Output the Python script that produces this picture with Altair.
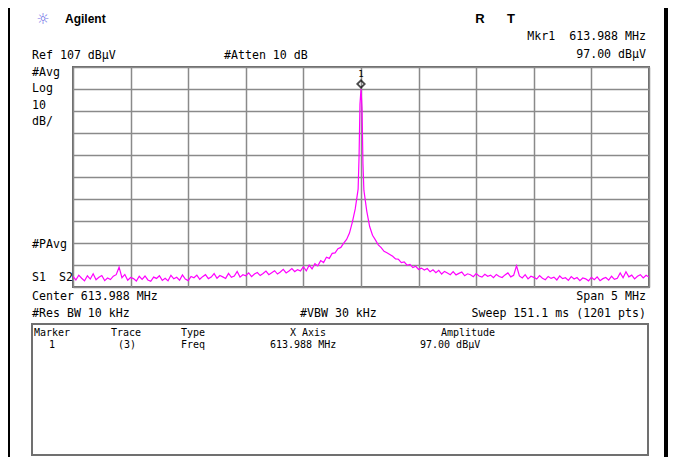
import altair as alt
import pandas as pd

CENTER_MHZ = 613.988
SPAN_MHZ = 5.0
REF_DB = 107.0
DB_PER_DIV = 10.0

# sweep offsets from centre (kHz), 25 kHz grid
grid_offsets_khz = list(range(-2500, 2501, 25))
grid_amp_dbuv = [
    11.8, 10.2, 12.4, 11.0, 9.8, 12.1, 10.6, 13.0, 10.3, 11.4,
    12.2, 9.9, 11.1, 10.4, 11.9, 12.6, 16.0, 11.2, 12.7, 10.1,
    11.3, 10.8, 9.7, 11.9, 10.5, 12.0, 10.2, 9.6, 11.5, 10.9,
    12.1, 10.0, 11.0, 9.8, 12.3, 10.7, 11.4, 10.1, 12.5, 10.6,
    9.9, 11.8, 11.2, 12.4, 10.5, 11.7, 12.6, 10.8, 11.5, 13.1,
    11.0, 12.2, 11.6, 10.9, 13.2, 11.4, 12.0, 14.1, 11.5, 12.6,
    12.1, 13.4, 11.7, 12.9, 13.6, 12.2, 13.1, 14.2, 12.6, 13.5,
    14.4, 12.9, 13.8, 15.0, 13.4, 14.3, 15.4, 14.0, 14.9, 14.3,
    16.2, 14.3, 16.9, 15.2, 17.6, 16.6, 19.0, 18.1, 20.5, 20.0,
    22.3, 22.5, 24.4, 25.0, 26.9, 28.6, 31.5, 36.5, 42.5, 51.5,
    97.0,
    51.0, 41.5, 34.5, 30.5, 28.4, 26.1, 24.9, 23.2, 22.6, 21.8,
    21.0, 19.8, 19.6, 18.1, 18.4, 16.9, 17.3, 15.8, 16.4, 15.0,
    15.6, 14.7, 15.4, 13.9, 14.8, 13.5, 14.6, 12.9, 14.1, 13.4,
    12.6, 14.0, 12.5, 13.2, 13.8, 12.1, 13.0, 12.6, 11.7, 13.1,
    12.0, 11.5, 12.8, 11.9, 12.4, 11.2, 12.7, 11.8, 11.3, 12.5,
    13.4, 11.6, 12.3, 16.6, 12.0, 11.1, 12.6, 10.7, 11.9, 11.4,
    10.6, 12.2, 11.0, 10.3, 11.8, 10.9, 11.5, 10.2, 12.0, 10.8,
    11.2, 10.0, 11.7, 10.6, 11.3, 9.9, 11.1, 10.7, 9.8, 11.4,
    10.3, 11.6, 9.9, 10.8, 11.3, 10.1, 11.9, 10.5, 11.0, 13.4,
    11.2, 13.9, 11.6, 12.4, 10.7, 11.9, 12.6, 11.1, 12.3, 11.5,
]
# extra samples on the carrier skirt
peak_offsets_khz = [-17, -9, 9, 17]
peak_amp_dbuv = [66.0, 90.0, 88.0, 63.0]

marker_freq_mhz = [613.988]
marker_amp_dbuv = [97.0]

if len(grid_amp_dbuv) != len(grid_offsets_khz):
    raise SystemExit(f"length mismatch {len(grid_amp_dbuv)} vs {len(grid_offsets_khz)}")

offs = grid_offsets_khz + peak_offsets_khz
amps = grid_amp_dbuv + peak_amp_dbuv
trace_df = pd.DataFrame({"off": offs, "amp": amps}).sort_values("off")
trace_df["freq"] = CENTER_MHZ + trace_df["off"] / 1000.0

f0 = CENTER_MHZ - SPAN_MHZ / 2
f1 = CENTER_MHZ + SPAN_MHZ / 2
x_grid = [round(f0 + k * SPAN_MHZ / 10, 4) for k in range(11)]
bottom_db = REF_DB - 10 * DB_PER_DIV
y_grid = [bottom_db + k * DB_PER_DIV for k in range(11)]

MONO = "DejaVu Sans Mono"
SANS = "Liberation Sans, Arial, sans-serif"
NB = "\u00a0"
OX, OY = 73, 67  # page position of plot origin

xs = alt.Scale(domain=[f0, f1], nice=False, zero=False)
ys = alt.Scale(domain=[bottom_db, REF_DB], nice=False, zero=False)
xaxis = alt.Axis(values=x_grid, tickCount=30, grid=True, labels=False, ticks=False,
                 domain=False, title=None)
yaxis = alt.Axis(values=y_grid, tickCount=30, grid=True, labels=False, ticks=False,
                 domain=False, title=None)

trace = alt.Chart(trace_df).mark_line(color="#ff00ff", strokeWidth=1.2, clip=True).encode(
    x=alt.X("freq:Q", scale=xs, axis=xaxis),
    y=alt.Y("amp:Q", scale=ys, axis=yaxis),
    order="off:Q",
)

mk_df = pd.DataFrame({"freq": marker_freq_mhz, "amp": marker_amp_dbuv})
marker = alt.Chart(mk_df).mark_point(shape="diamond", filled=False, color="black",
                                      strokeWidth=1.8, size=55, yOffset=-5).encode(
    x=alt.X("freq:Q", scale=xs), y=alt.Y("amp:Q", scale=ys))
marker_lbl = alt.Chart(mk_df).mark_text(text="1", fontSize=9, font=MONO, yOffset=-15,
                                         color="black").encode(
    x=alt.X("freq:Q", scale=xs), y=alt.Y("amp:Q", scale=ys))

one = pd.DataFrame({"a": [0]})


def label(text, x, y, align="left", size=11.6, font=MONO, weight="normal", color="black"):
    return alt.Chart(one).mark_text(text=text, align=align, baseline="middle", fontSize=size,
                                    font=font, fontWeight=weight, color=color).encode(
        x=alt.value(x - OX), y=alt.value(y - OY))


def box(x1, y1, x2, y2, fill=None, stroke=None, sw=0):
    kw = {}
    if fill:
        kw["fill"] = fill
    else:
        kw["fillOpacity"] = 0
    if stroke:
        kw["stroke"] = stroke
        kw["strokeWidth"] = sw
    return alt.Chart(one).mark_rect(**kw).encode(
        x=alt.value(x1 - OX), x2=alt.value(x2 - OX), y=alt.value(y1 - OY), y2=alt.value(y2 - OY))


labels = [
    label("☼", 43, 19, align="center", size=15, font="DejaVu Sans", color="#6a6ae6"),
    label("Agilent", 65, 19, size=12, font=SANS, weight="bold"),
    label("R", 480, 19, align="center", size=13, font=SANS, weight="bold"),
    label("T", 511, 19, align="center", size=13, font=SANS, weight="bold"),
    label(f"Mkr1{NB}{NB}613.988 MHz", 646, 37, align="right"),
    label("97.00 dBµV", 646, 55, align="right"),
    label("Ref 107 dBµV", 32, 56),
    label("#Atten 10 dB", 224, 56),
    label("#Avg", 32, 73),
    label("Log", 32, 89),
    label("10", 32, 106),
    label("dB/", 32, 122),
    label("#PAvg", 32, 245),
    label("S1", 32, 278),
    label("S2", 59, 278),
    label("Center 613.988 MHz", 32, 297),
    label("Span 5 MHz", 646, 297, align="right"),
    label("#Res BW 10 kHz", 32, 314),
    label("#VBW 30 kHz", 300, 314),
    label("Sweep 151.1 ms (1201 pts)", 646, 314, align="right"),
    label("Marker", 52, 333, align="center", size=10),
    label("Trace", 126, 333, align="center", size=10),
    label("Type", 181, 333, size=10),
    label("X Axis", 308, 333, align="center", size=10),
    label("Amplitude", 468, 333, align="center", size=10),
    label("1", 52, 345, align="center", size=10),
    label("(3)", 127, 345, align="center", size=10),
    label("Freq", 181, 345, size=10),
    label("613.988 MHz", 270, 345, size=10),
    label("97.00 dBµV", 420, 345, size=10),
]

frames = [
    box(8, 0, 10, 469, fill="black"),
    box(664, 0, 668, 469, fill="black"),
    box(32, 324, 648, 455, stroke="#707070", sw=2),
]

chart = alt.layer(trace, marker, marker_lbl, *frames, *labels).properties(
    width=576, height=220,
    autosize=alt.AutoSizeParams(type="none"),
    padding={"left": 65, "top": 59, "right": 19, "bottom": 170},
    background="white",
).configure_view(stroke="#6a6a6a", strokeWidth=2).configure_axis(
    gridColor="#8a8a8a", gridWidth=1.5, gridOpacity=1)

chart.save("out.html", embed_options={"renderer": "svg", "actions": False})
